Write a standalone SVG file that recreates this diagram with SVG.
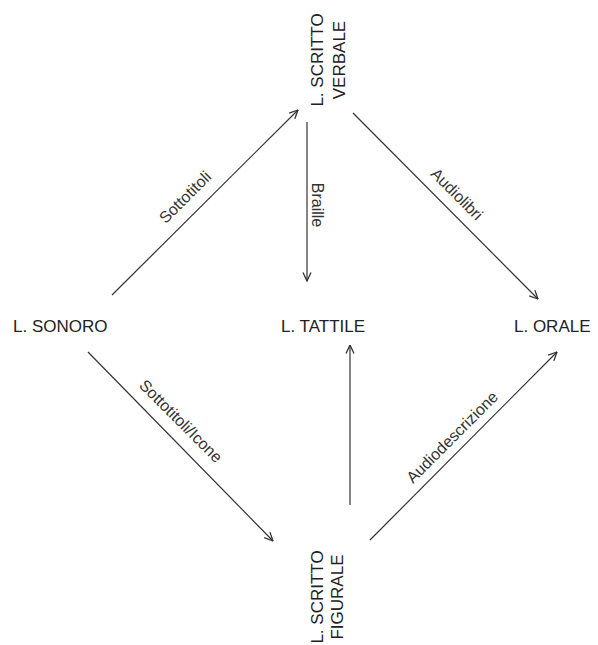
<svg xmlns="http://www.w3.org/2000/svg" width="598" height="645" viewBox="0 0 598 645">
<defs>
<style>
.node{font-family:"Liberation Sans",Arial,sans-serif;font-size:17px;fill:#222}
.lbl{font-family:"Liberation Sans",Arial,sans-serif;font-size:16px;fill:#333;text-anchor:middle}
.edge{stroke:#333;stroke-width:1.2;fill:none;marker-end:url(#arr)}
</style>
<marker id="arr" viewBox="0 0 10 10" refX="9.5" refY="5" markerWidth="10" markerHeight="10" markerUnits="userSpaceOnUse" orient="auto">
<path d="M1,1 L9.5,5 L1,9" fill="none" stroke="#333" stroke-width="1.3"/>
</marker>
</defs>
<rect width="598" height="645" fill="#fff"/>
<g id="connectors">
<line class="edge" x1="112" y1="295" x2="298" y2="110"/>
<line class="edge" x1="307" y1="122" x2="307" y2="281"/>
<line class="edge" x1="353" y1="113" x2="538" y2="299"/>
<line class="edge" x1="88" y1="352" x2="273" y2="541"/>
<line class="edge" x1="350" y1="505" x2="350" y2="345"/>
<line class="edge" x1="370" y1="540" x2="557" y2="352"/>
<text class="lbl" transform="translate(189,201) rotate(-45)">Sottotitoli</text>
<text class="lbl" transform="translate(312,205) rotate(90)">Braille</text>
<text class="lbl" transform="translate(453,198) rotate(45)">Audiolibri</text>
<text class="lbl" transform="translate(177,425) rotate(45)">Sottotitoli/Icone</text>
<text class="lbl" transform="translate(456,441) rotate(-45)">Audiodescrizione</text>
</g>
<g id="n-scritto-verbale">
<text class="node" text-anchor="middle" transform="translate(323,60) rotate(-90)">L. SCRITTO</text>
<text class="node" text-anchor="middle" transform="translate(345,60) rotate(-90)">VERBALE</text>
</g>
<g id="n-sonoro"><text class="node" x="13" y="332">L. SONORO</text></g>
<g id="n-tattile"><text class="node" x="281" y="332">L. TATTILE</text></g>
<g id="n-orale"><text class="node" x="514" y="332">L. ORALE</text></g>
<g id="n-scritto-figurale">
<text class="node" text-anchor="middle" transform="translate(323,597) rotate(-90)">L. SCRITTO</text>
<text class="node" text-anchor="middle" transform="translate(343,597) rotate(-90)">FIGURALE</text>
</g>
</svg>
